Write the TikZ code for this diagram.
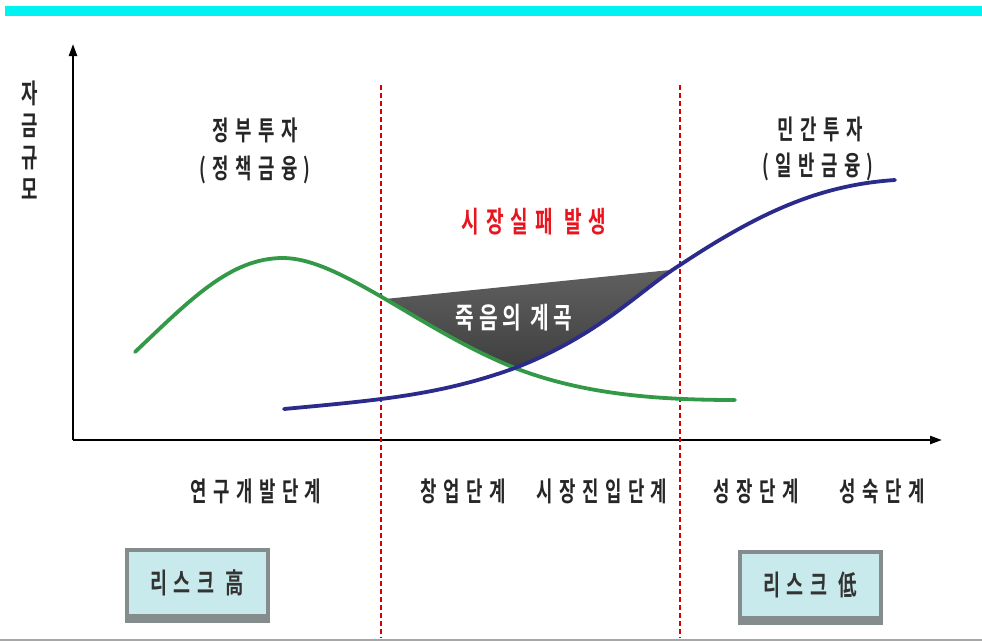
\documentclass[tikz,border=0pt]{standalone}
\usepackage{fontspec}
\newfontfamily\kr[FakeStretch=0.66, LetterSpace=24]{Noto Sans CJK KR Bold}
\newfontfamily\krw[FakeStretch=0.7, LetterSpace=16]{Noto Sans CJK KR Bold}
\definecolor{cyanbar}{HTML}{00F2F2}
\definecolor{gcurve}{HTML}{339947}
\definecolor{bcurve}{HTML}{2B2B8C}
\definecolor{redtxt}{HTML}{E8141E}
\definecolor{boxfill}{HTML}{C8EAEC}
\definecolor{boxedge}{HTML}{858C8E}
\usetikzlibrary{arrows.meta}
\tikzset{
  lbl/.style={font=\kr\fontsize{27}{30}\selectfont, text=black!85, inner sep=0pt},
  axis/.style={line width=2.2pt, -{Triangle[length=12pt,width=8pt]}},
  divider/.style={red!85!black, line width=1.4pt, dash pattern=on 5pt off 3pt},
  riskbox/.style={draw=boxedge, line width=4pt, fill=boxfill, minimum width=141pt, minimum height=66pt, inner sep=0pt, font=\kr\fontsize{28}{30}\selectfont, text=black!80},
  boxbase/.style={boxedge, line width=5pt},
  curve/.style={line width=3.8pt, line cap=round}
}
\begin{document}
\begin{tikzpicture}[x=1pt,y=-1pt]
\useasboundingbox (0,0) rectangle (982,643);
\fill[white] (0,0) rectangle (982,643);
% top bar and bottom line
\fill[cyanbar] (5,6) rectangle (982,16);
\draw[gray!70, line width=1.5pt] (0,640) -- (982,640);
% axes
\coordinate (O) at (73,440);
\coordinate (ytop) at (73,44);
\coordinate (xend) at (942,440);
\draw[axis] (O) -- (ytop);
\draw[axis] (O) -- (xend);
% dividers
\coordinate (d1t) at (381,85);
\coordinate (d1b) at (381,638);
\coordinate (d2t) at (680,85);
\coordinate (d2b) at (680,638);
\draw[divider] (d1t) -- (d1b);
\draw[divider] (d2t) -- (d2b);
% valley of death
\begin{scope}
  \clip (135,352) .. controls (190,300) and (230,258) .. (283,258)
        .. controls (340,258) and (420,330) .. (515,368)
        .. controls (580,393) and (650,400) .. (735,400)
        -- (735,0) -- (135,0) -- cycle;
  \clip (284,409) .. controls (380,400) and (440,395) .. (515,368)
        .. controls (600,335) and (640,290) .. (680,265)
        .. controls (760,212) and (820,185) .. (895,180)
        -- (895,0) -- (284,0) -- cycle;
  \shade[top color=black!62, bottom color=black!82] (380,299.5) -- (700,267) -- (700,420) -- (380,420) -- cycle;
\end{scope}
% curves
\draw[curve, gcurve] (135,352) .. controls (190,300) and (230,258) .. (283,258)
        .. controls (340,258) and (420,330) .. (515,368)
        .. controls (580,393) and (650,400) .. (735,400);
\draw[curve, bcurve] (284,409) .. controls (380,400) and (440,395) .. (515,368)
        .. controls (600,335) and (640,290) .. (680,265)
        .. controls (760,212) and (820,185) .. (895,180);
% texts
\node[font=\kr\fontsize{27}{30}\selectfont, text=black!85, align=center, inner sep=0pt] (ylab) at (30,140) {자\\[2pt]금\\[2pt]규\\[2pt]모};
\node[lbl] (gov1) at (255,130) {정부투자};
\node[lbl] (gov2) at (255,170) {(정책금융)};
\node[lbl] (pri1) at (820,129) {민간투자};
\node[lbl] (pri2) at (818,167) {(일반금융)};
\node[lbl, text=redtxt, font=\kr\fontsize{29}{32}\selectfont] (fail) at (534,222) {시장실패 발생};
\node[lbl, text=white, font=\krw\fontsize{29}{32}\selectfont] (valley) at (514,318) {죽음의 계곡};
\node[lbl] (s1) at (256,491) {연구개발단계};
\node[lbl] (s2) at (463,491) {창업단계};
\node[lbl] (s3) at (602,491) {시장진입단계};
\node[lbl] (s4) at (756,491) {성장단계};
\node[lbl] (s5) at (882,491) {성숙단계};
% risk boxes
\node[riskbox] (rhigh) at (197,583) {리스크 高};
\node[riskbox] (rlow) at (810,585) {리스크 低};
\draw[boxbase] ([yshift=-2pt]rhigh.south west) -- ([yshift=-2pt]rhigh.south east);
\draw[boxbase] ([yshift=-2pt]rlow.south west) -- ([yshift=-2pt]rlow.south east);
\end{tikzpicture}
\end{document}
